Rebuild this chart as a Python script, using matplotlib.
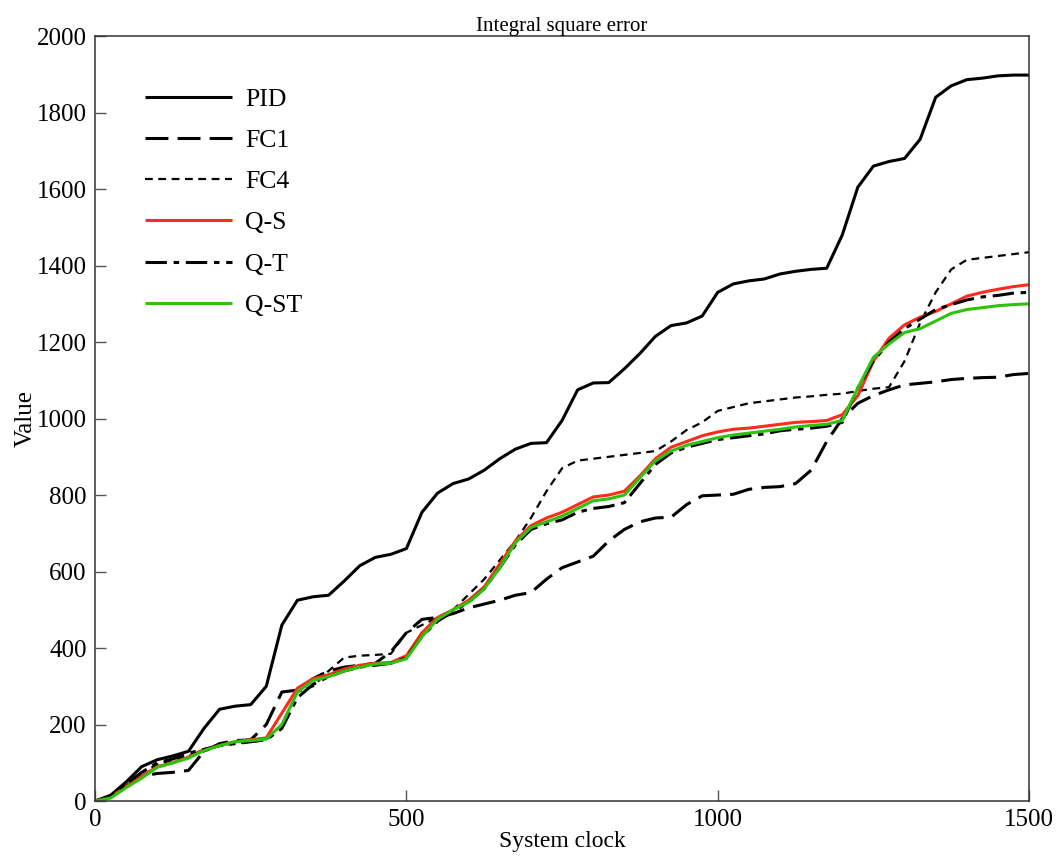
import matplotlib

matplotlib.use("Agg")

import matplotlib.pyplot as plt

plt.rcParams["font.family"] = ["Liberation Serif", "DejaVu Serif"]

# system clock samples
clock = [0, 25, 50, 75, 100, 125, 150, 175, 200, 225, 250, 275, 300, 325, 350,
         375, 400, 425, 450, 475, 500, 525, 550, 575, 600, 625, 650, 675, 700,
         725, 750, 775, 800, 825, 850, 875, 900, 925, 950, 975, 1000, 1025,
         1050, 1075, 1100, 1125, 1150, 1175, 1200, 1225, 1250, 1275, 1300,
         1325, 1350, 1375, 1400, 1425, 1450, 1475, 1500]

ise_pid = [0, 15, 50, 90, 108, 118, 130, 190, 240, 248, 252, 300, 460, 525,
           534, 538, 575, 615, 637, 645, 660, 755, 805, 830, 842, 865, 895,
           920, 935, 937, 995, 1075, 1093, 1094, 1130, 1170, 1215, 1243, 1250,
           1268, 1330, 1352, 1360, 1365, 1378, 1385, 1390, 1393, 1480, 1605,
           1660, 1672, 1680, 1730, 1840, 1870, 1886, 1890, 1896, 1898, 1898]

ise_fc1 = [0, 10, 40, 65, 72, 75, 80, 130, 150, 158, 160, 200, 285, 290, 320,
           340, 350, 355, 360, 390, 440, 475, 480, 490, 505, 515, 525, 538,
           545, 580, 610, 625, 640, 680, 710, 730, 740, 742, 775, 798, 800,
           802, 815, 820, 822, 830, 865, 940, 1000, 1040, 1060, 1075, 1088,
           1092, 1096, 1102, 1105, 1107, 1108, 1115, 1118]

ise_fc4 = [0, 10, 45, 75, 95, 108, 118, 130, 145, 150, 155, 160, 200, 285,
           300, 340, 375, 380, 382, 385, 440, 460, 480, 500, 540, 580, 630,
           680, 740, 810, 870, 890, 895, 900, 905, 910, 915, 940, 970, 990,
           1020, 1030, 1040, 1045, 1050, 1055, 1058, 1062, 1065, 1072, 1078,
           1082, 1150, 1250, 1330, 1390, 1415, 1420, 1425, 1430, 1435]

ise_qs = [0, 10, 38, 65, 90, 100, 115, 135, 145, 155, 160, 165, 230, 295, 320,
          330, 345, 355, 360, 362, 380, 440, 480, 500, 525, 560, 620, 680, 720,
          740, 755, 775, 795, 800, 810, 850, 895, 925, 940, 955, 965, 972, 975,
          980, 985, 990, 992, 995, 1010, 1060, 1150, 1210, 1245, 1265, 1280,
          1300, 1320, 1330, 1338, 1345, 1350]

ise_qt = [0, 10, 45, 75, 100, 110, 125, 135, 145, 150, 155, 160, 190, 270,
          305, 325, 340, 350, 355, 360, 375, 430, 470, 495, 520, 555, 610, 670,
          710, 725, 735, 755, 765, 770, 780, 830, 880, 910, 925, 935, 945, 950,
          955, 960, 968, 972, 975, 980, 990, 1080, 1150, 1200, 1235, 1260,
          1285, 1298, 1310, 1318, 1322, 1328, 1330]

ise_qst = [0, 8, 35, 60, 88, 100, 112, 132, 145, 155, 158, 162, 200, 285, 315,
           325, 340, 350, 358, 360, 372, 430, 475, 500, 520, 555, 610, 675,
           715, 730, 745, 765, 785, 790, 800, 845, 890, 915, 930, 940, 950,
           957, 962, 967, 972, 978, 982, 985, 995, 1080, 1160, 1195, 1225,
           1235, 1255, 1275, 1285, 1290, 1295, 1298, 1300]

SERIES = [
    ("PID", ise_pid, "black", (0, ())),
    ("FC1", ise_fc1, "black", (0, (7.5, 3))),
    ("FC4", ise_fc4, "black", (0, (3.5, 2.5))),
    ("Q-S", ise_qs, "#ff2b1c", (0, ())),
    ("Q-T", ise_qt, "black", (0, (7, 2.2, 1.8, 2.2))),
    ("Q-ST", ise_qst, "#2ec20a", (0, ())),
]

fig = plt.figure(figsize=(10.62, 8.59), dpi=100)
ax = fig.add_axes([0.0895, 0.0675, 0.8795, 0.8905])

for name, values, color, dashes in SERIES:
    lw = 1.6 if name == "FC4" else 2.2
    ax.plot(clock, values, color=color, linestyle=dashes, linewidth=lw,
            label=name)

ax.set_xlim(0, 1500)
ax.set_ylim(0, 2000)
ax.set_xticks([0, 500, 1000, 1500])
ax.set_yticks(range(0, 2001, 200))
ax.tick_params(direction="in", length=8, width=1, color="#555555",
               labelsize=18, top=False, right=False, pad=6)
for spine in ax.spines.values():
    spine.set_color("#333333")
    spine.set_linewidth(1.1)

ax.set_title("Integral square error", fontsize=15, pad=4)
ax.set_xlabel("System clock", fontsize=17, labelpad=0)
ax.set_ylabel("Value", fontsize=18, labelpad=0)

ax.legend(loc="upper left", bbox_to_anchor=(0.0425, 0.946), frameon=False,
          fontsize=18.5, handlelength=3.4, handletextpad=0.5,
          labelspacing=0.71, borderaxespad=0)

fig.savefig("out.png", dpi=100)
